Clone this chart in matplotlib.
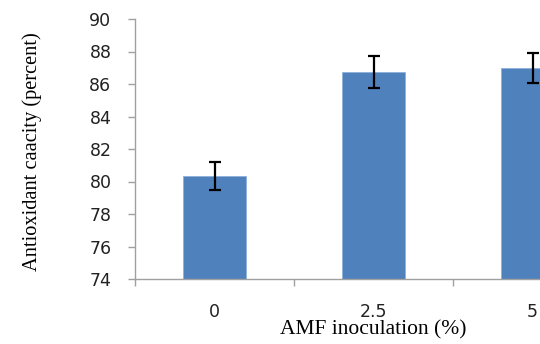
import matplotlib
matplotlib.use("Agg")
import matplotlib.pyplot as plt
import numpy as np

categories = ["0", "2.5", "5"]
values = [80.35, 86.75, 86.97]
errors = [0.85, 0.98, 0.92]

fig = plt.figure(figsize=(5.4, 3.44), dpi=100)
ax = fig.add_axes([135/540, 65/344, 477/540, 260/344])
x = np.arange(len(categories))
ax.bar(x, values, width=0.4, color="#4F81BD", edgecolor="#8DB0DB", linewidth=0.6,
       yerr=errors, error_kw=dict(ecolor="black", elinewidth=1.6, capsize=4.5, capthick=1.6))
ax.set_xlim(-0.5, 2.5)
ax.set_ylim(74, 90)
ax.set_yticks(np.arange(74, 91, 2))
ax.set_xticks(x)
ax.set_xticklabels(categories)
ax.set_xticks(np.arange(-0.5, 2.6, 1), minor=True)
ax.tick_params(axis="x", which="major", length=0, pad=17)
ax.tick_params(axis="x", which="minor", length=5, color="#A0A0A0", width=1)
ax.tick_params(axis="y", length=5, color="#A0A0A0", width=1, pad=12)
for lab in ax.get_xticklabels() + ax.get_yticklabels():
    lab.set_fontsize(12.5)
    lab.set_fontfamily("DejaVu Sans")
    lab.set_color("#222222")
for s in ["top", "right"]:
    ax.spines[s].set_visible(False)
for s in ["left", "bottom"]:
    ax.spines[s].set_color("#A0A0A0")
    ax.spines[s].set_linewidth(1)
ax.set_xlabel("AMF inoculation (%)", fontfamily="Liberation Serif", fontsize=15.5, labelpad=0)
ax.set_ylabel("Antioxidant caacity (percent)", fontfamily="Liberation Serif", fontsize=14.7)
ax.yaxis.set_label_coords(-0.195, 0.488)
fig.savefig("out.png", dpi=100)
